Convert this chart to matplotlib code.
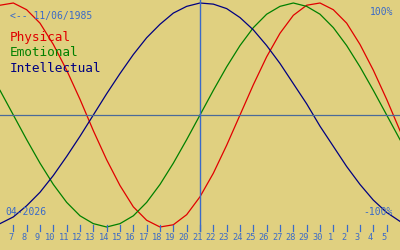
import matplotlib
matplotlib.use("Agg")
import matplotlib.pyplot as plt

# biorhythm values, one per day from 6 April to 7 May
day_labels = ["6", "7", "8", "9", "10", "11", "12", "13", "14", "15", "16", "17", "18", "19", "20",
              "21", "22", "23", "24", "25", "26", "27", "28", "29", "30", "1", "2", "3", "4", "5", "6", "7"]
physical = [0.98, 1.00, 0.94, 0.82, 0.63, 0.40, 0.14, -0.14, -0.40, -0.63, -0.82, -0.94, -1.00, -0.98, -0.89, -0.73,
            -0.52, -0.27, 0.00, 0.27, 0.52, 0.73, 0.89, 0.98, 1.00, 0.94, 0.82, 0.63, 0.40, 0.14, -0.14, -0.40]
emotional = [0.22, 0.00, -0.22, -0.43, -0.62, -0.78, -0.90, -0.97, -1.00, -0.97, -0.90, -0.78, -0.62, -0.43, -0.22, 0.00,
             0.22, 0.43, 0.62, 0.78, 0.90, 0.97, 1.00, 0.97, 0.90, 0.78, 0.62, 0.43, 0.22, 0.00, -0.22, -0.43]
intellectual = [-0.97, -0.91, -0.81, -0.69, -0.54, -0.37, -0.19, 0.00, 0.19, 0.37, 0.54, 0.69, 0.81, 0.91, 0.97, 1.00,
                0.99, 0.95, 0.87, 0.76, 0.62, 0.46, 0.28, 0.10, -0.10, -0.28, -0.46, -0.62, -0.76, -0.87, -0.95, -0.99]
today = 15  # index of 21 April
birth = "11/06/1985"
month = "04-2026"

bg = "#e0d080"
blue = "#3a6ac8"
mono = "DejaVu Sans Mono"

fig = plt.figure(figsize=(4, 2.5), dpi=100, facecolor=bg)
ax = fig.add_axes([0, 0, 1, 1])
ax.set_facecolor(bg)
ax.set_xlim(0, 30)
ax.set_ylim(-135 / 112, 115 / 112)  # 112 px per unit, zero line at y=115
ax.axis("off")

x = list(range(len(physical)))
ax.plot(x, physical, color="#e00000", lw=0.9)
ax.plot(x, emotional, color="#008000", lw=0.9)
ax.plot(x, intellectual, color="#000080", lw=0.9)

# zero line and today marker
ax.axhline(0, color="#4a6a9a", lw=0.9)
ax.plot([today, today], [115 / 112, -116 / 112], color=blue, lw=1.0)

# day ticks along the bottom
for i in range(1, 30):
    ax.plot([i, i], [-110 / 112, -116 / 112], color=blue, lw=0.9)
    ax.text(i - 0.2, -122.5 / 112, day_labels[i], color=blue, fontsize=6.2,
            family=mono, ha="center", va="center")

# labels
ax.text(10 / 400, 1 - 16 / 250, "<-- " + birth, transform=ax.transAxes, color=blue,
        fontsize=7, family=mono, va="center")
ax.text(10 / 400, 1 - 38 / 250, "Physical", transform=ax.transAxes, color="#e00000",
        fontsize=9.2, family=mono, va="center")
ax.text(10 / 400, 1 - 53 / 250, "Emotional", transform=ax.transAxes, color="#008000",
        fontsize=9.2, family=mono, va="center")
ax.text(10 / 400, 1 - 68 / 250, "Intellectual", transform=ax.transAxes, color="#000080",
        fontsize=9.2, family=mono, va="center")
ax.text(393 / 400, 1 - 12 / 250, "100%", transform=ax.transAxes, color=blue,
        fontsize=7, family=mono, va="center", ha="right")
ax.text(393 / 400, 1 - 212 / 250, "-100%", transform=ax.transAxes, color=blue,
        fontsize=7, family=mono, va="center", ha="right")
ax.text(5 / 400, 1 - 212 / 250, month, transform=ax.transAxes, color=blue,
        fontsize=7, family=mono, va="center")

plt.savefig("out.png", dpi=100, facecolor=bg)
